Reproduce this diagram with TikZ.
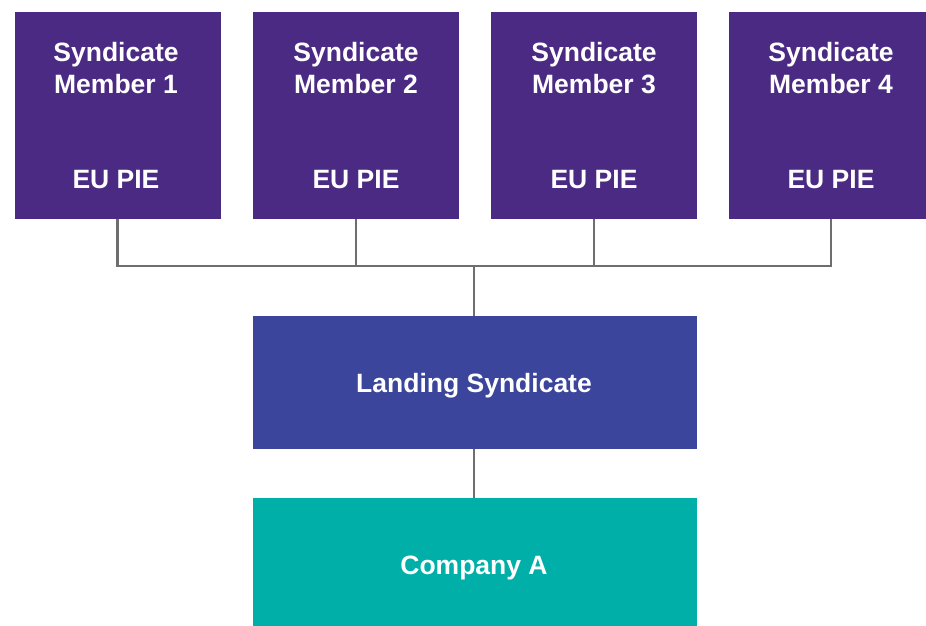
\documentclass[tikz,border=0pt]{standalone}
\usepackage{fontspec}
\setmainfont{Liberation Sans}
\definecolor{mpurple}{HTML}{4B2A83}
\definecolor{lblue}{HTML}{3A459B}
\definecolor{cteal}{HTML}{00B0A8}
\definecolor{lgray}{HTML}{6E6E6E}
\begin{document}
\begin{tikzpicture}[x=1pt,y=-1pt,
  member/.style={fill=mpurple,draw=none,inner sep=0pt,minimum width=206pt,minimum height=207pt,anchor=north west},
  bigbox/.style={draw=none,inner sep=0pt,minimum width=444pt,anchor=north west},
  lbl/.style={text=white,font=\bfseries\fontsize{26.5}{31}\selectfont,anchor=base,inner sep=0pt},
  conn/.style={draw=lgray,line width=2.2pt}]
\useasboundingbox (0,0) rectangle (926,626);
\clip (0,0) rectangle (926,626);
\node[member] (m1) at (15,12) {};
\node[member] (m2) at (253,12) {};
\node[member] (m3) at (491,12) {};
\node[member] (m4) at (729,12) {};
\node[bigbox,fill=lblue,minimum height=133pt] (land) at (253,316) {};
\node[bigbox,fill=cteal,minimum height=133pt] (comp) at (253,498) {};
\foreach \i/\x in {1/116,2/356,3/594,4/831}{
  \node[lbl] (s\i) at (\x,62) {Syndicate};
  \node[lbl] (n\i) at (\x,93) {Member \i};
  \node[lbl] (e\i) at (\x,188) {EU PIE};
}
\node[lbl] (lt) at (474,392) {Landing Syndicate};
\node[lbl] (ct) at (474,574) {Company A};
\coordinate (bus) at (474,266);
\draw[conn] (m1.south -| 117.5,0) |- (bus) -| (m4.south -| 831,0);
\draw[conn] (m2.south) -- (m2.south |- bus);
\draw[conn] (m3.south -| 594,0) -- (594,266);
\draw[conn] (land.north -| bus) -- (bus);
\draw[conn] (land.south -| bus) -- (comp.north -| bus);
\end{tikzpicture}
\end{document}
